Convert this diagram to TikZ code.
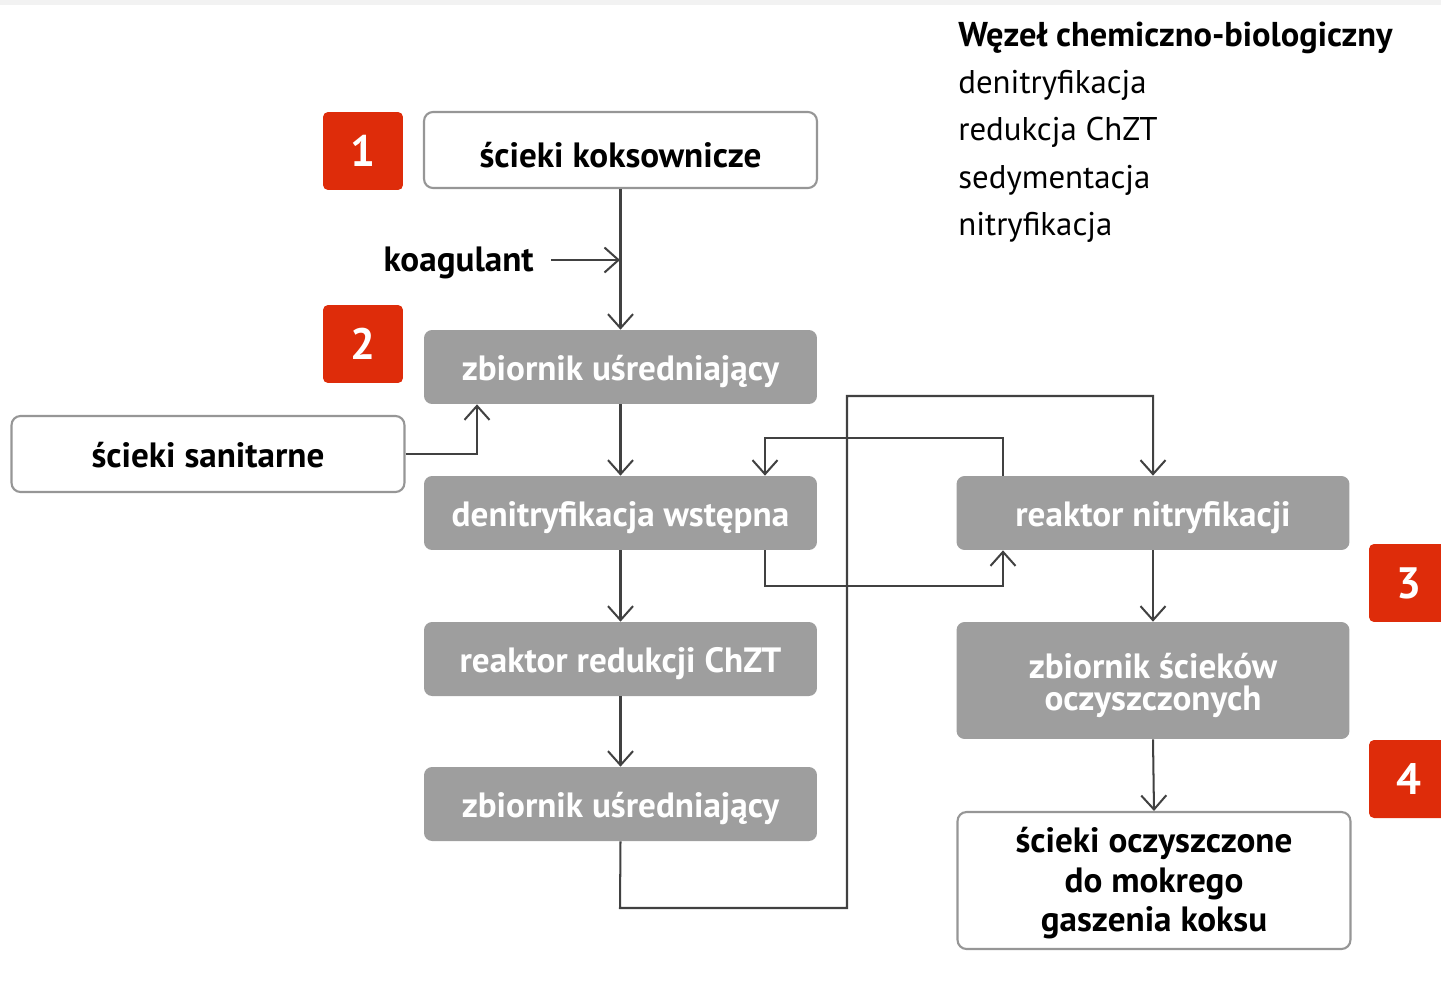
\documentclass[tikz,border=0pt]{standalone}
\usepackage{fontspec}
\setmainfont{PT Sans}
\usetikzlibrary{arrows.meta}
\definecolor{boxgray}{RGB}{158,158,158}
\definecolor{linegray}{RGB}{65,65,65}
\definecolor{redbox}{RGB}{222,44,10}
\definecolor{bordergray}{RGB}{150,150,150}
\tikzset{
  px/.style={x=0.02cm,y=-0.02cm},
  whitebox/.style={draw=bordergray,line width=1.2pt,fill=white,rounded corners=0.18cm,
    minimum width=7.86cm,minimum height=1.52cm,font=\fontsize{20}{22.7}\selectfont\bfseries,
    text=black,align=center,inner sep=0pt,text height=15pt,text depth=0pt},
  graybox/.style={fill=boxgray,rounded corners=0.16cm,minimum width=7.86cm,minimum height=1.48cm,
    font=\fontsize{20}{18.7}\selectfont\bfseries,text=white,align=center,inner sep=0pt,
    text height=15.9pt,text depth=0pt},
  numbox/.style={fill=redbox,rounded corners=0.1cm,minimum width=1.6cm,minimum height=1.56cm,
    font=\fontsize{25}{27}\selectfont\bfseries,text=white,inner sep=0pt},
  conn/.style={draw=linegray,line width=1.15pt,-{Straight Barb[length=2.8mm,width=5mm,line width=1.15pt]}},
  legend/.style={font=\fontsize{18.7}{20}\selectfont,anchor=base west,inner sep=0pt},
}
\begin{document}
\begin{tikzpicture}[px]
\useasboundingbox (0,0) rectangle (1441,994);
\fill[black!5] (0,0) rectangle (1441,5);
% numbered boxes
\node[numbox] (n1) at (363,151) {1};
\node[numbox] (n2) at (363,344) {2};
\node[numbox] (n3) at (1409,583) {3};
\node[numbox] (n4) at (1409,779) {4};
% main boxes
\node[whitebox,text height=20pt] (kok) at (620.5,150) {ścieki koksownicze};
\node[graybox] (zb1) at (620.5,367) {zbiornik uśredniający};
\node[whitebox] (san) at (208,454) {ścieki sanitarne};
\node[graybox] (den) at (620.5,513) {denitryfikacja wstępna};
\node[graybox] (red) at (620.5,659) {reaktor redukcji ChZT};
\node[graybox] (zb2) at (620.5,804) {zbiornik uśredniający};
\node[graybox] (nit) at (1153,513) {reaktor nitryfikacji};
\node[graybox,minimum height=2.34cm,text height=34.6pt] (zso) at (1153,680.5) {zbiornik ścieków\\oczyszczonych};
\node[whitebox,minimum height=2.74cm,text height=58.6pt] (out) at (1154,880.5) {ścieki oczyszczone\\do mokrego\\gaszenia koksu};
% koagulant
\node[font=\fontsize{20}{22}\selectfont\bfseries,anchor=east,inner sep=0pt] (koag) at (534,263) {koagulant};
\coordinate (kj) at (620,260);
\coordinate (ks) at (551,260);
% legend
\node[legend,font=\fontsize{19.6}{20}\selectfont\bfseries] (lt) at (958,46) {Węzeł chemiczno-biologiczny};
\node[legend] (l1) at (958,93) {denitryfikacja};
\node[legend] (l2) at (958,140) {redukcja ChZT};
\node[legend] (l3) at (958,188) {sedymentacja};
\node[legend] (l4) at (958,235) {nitryfikacja};
% connectors
\draw[conn] (kok.south) -- (zb1.north);
\draw[conn] (ks) -- (kj);
\draw[conn] (san.east) -| (zb1.south -| 477,0);
\draw[conn] (zb1.south) -- (den.north);
\draw[conn] (den.south) -- (red.north);
\draw[conn] (red.south) -- (zb2.north);
\draw[conn] (zb2.south) -- (620,908) -- (847,908) -- (847,396) -- (1153,396) -- (nit.north);
\draw[conn] (nit.north -| 1003,0) -- (1003,438) -- (765,438) -- (den.north -| 765,0);
\draw[conn] (den.south -| 765,0) -- (765,586) -- (1003,586) -- (nit.south -| 1003,0);
\draw[conn] (nit.south) -- (zso.north);
\draw[conn] (zso.south) -- (out.north);
\end{tikzpicture}
\end{document}
